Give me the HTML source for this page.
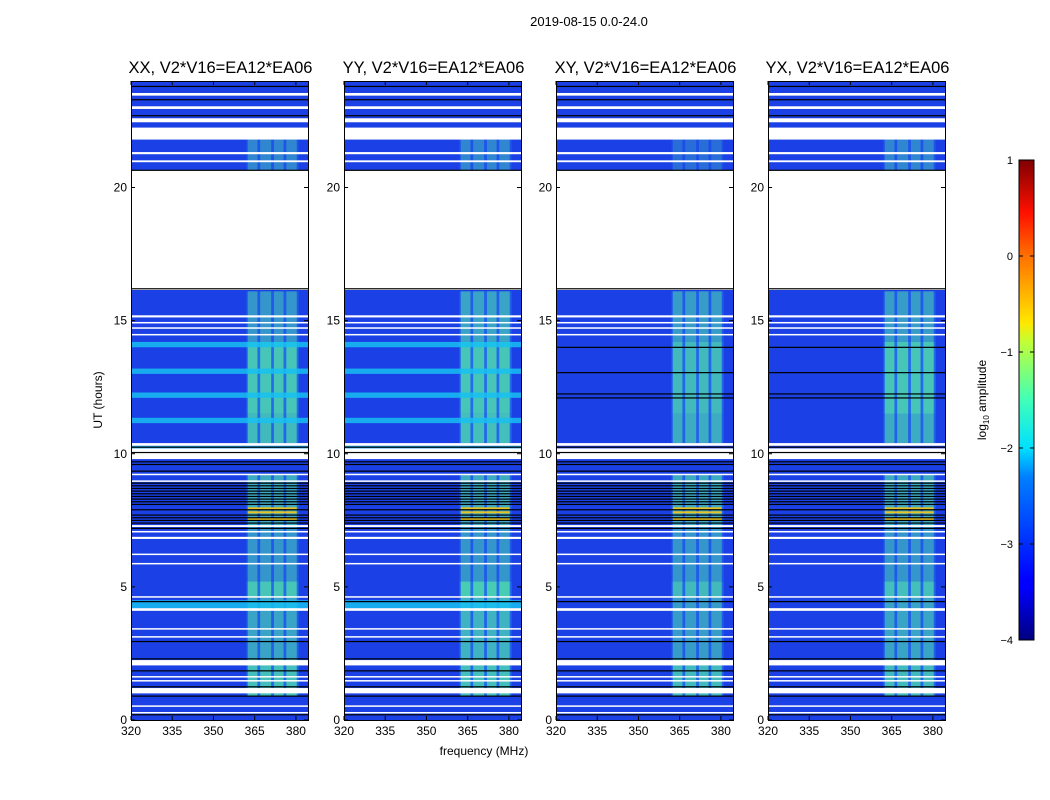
<!DOCTYPE html>
<html><head><meta charset="utf-8">
<style>
body{margin:0;background:#fff;}
svg{display:block;font-family:"Liberation Sans",sans-serif;}
</style></head>
<body>
<svg id="fig" width="1050" height="800" viewBox="0 0 1050 800" xmlns="http://www.w3.org/2000/svg">
<defs>
<linearGradient id="jet" x1="0" y1="1" x2="0" y2="0">
<stop offset="0" stop-color="#00007f"/><stop offset="0.11" stop-color="#0000ff"/>
<stop offset="0.125" stop-color="#0000ff"/><stop offset="0.34" stop-color="#0080ff"/>
<stop offset="0.4" stop-color="#00e0ff"/><stop offset="0.5" stop-color="#40ffb8"/>
<stop offset="0.62" stop-color="#c0ff38"/><stop offset="0.66" stop-color="#ffe800"/>
<stop offset="0.8" stop-color="#ff7000"/><stop offset="0.89" stop-color="#ff1000"/>
<stop offset="1" stop-color="#7f0000"/>
</linearGradient>
</defs>
<text x="589" y="26" font-size="13" text-anchor="middle">2019-08-15 0.0-24.0</text>
<g id="panels"></g>
<text x="484" y="755" font-size="12" text-anchor="middle">frequency (MHz)</text>
<text transform="translate(102,400) rotate(-90)" font-size="12" text-anchor="middle">UT (hours)</text>
<g>
<rect x="1019" y="160" width="15" height="480" fill="url(#jet)" stroke="#000" stroke-width="1"/>
<g id="cbticks"></g>
<text transform="translate(986,400) rotate(-90)" font-size="12" text-anchor="middle">log<tspan font-size="8" dy="3">10</tspan><tspan dy="-3"> amplitude</tspan></text>
</g>
</svg>
<script>
const panelTitles = ["XX, V2*V16=EA12*EA06","YY, V2*V16=EA12*EA06","XY, V2*V16=EA12*EA06","YX, V2*V16=EA12*EA06"];
const panelX = [131,344,556,768];
const xTicks = [320,335,350,365,380];
const yTicks = [0,5,10,15,20];
const cbTicks = [1,0,-1,-2,-3,-4];
// flagged (white) time ranges, hours
const flagRows = [[23.45,23.55],[22.95,23.05],[22.45,22.6],[21.8,22.25],[21.25,21.33],[20.95,21.02],[16.15,20.65],[15.12,15.2],[14.9,14.95],[14.7,14.75],[14.45,14.5],[10.3,10.4],[9.8,10.2],[9.2,9.25],[8.95,9.0],[7.25,7.32],[7.05,7.1],[6.8,6.88],[6.2,6.25],[5.85,5.9],[4.6,4.65],[4.1,4.2],[3.4,3.45],[3.1,3.15],[2.05,2.25],[1.6,1.65],[1.45,1.5],[1.0,1.2],[0.5,0.55],[0.25,0.3]];
// black line rows, hours
const blackRows = [23.8,23.3,22.7,20.65,16.2,10.25,10.05,9.7,9.6,9.35,8.9,8.8,8.7,8.6,8.5,8.4,8.3,8.2,8.1,7.9,7.7,7.6,7.5,7.4,7.2,4.45,2.95,2.3,1.85,1.25,0.9,0.2];
const blackRowsCross = [14.0,12.25,12.1,13.05];
// bright channel bands, MHz
const chanBands = [[362.5,366],[367,371],[372,375.5],[376.5,380.3]];
// time segments with band brightness (0..1) per polarisation [XX,YY,XY,YX]
const activeSegs = [[0.9,2.3,[0.8,0.8,0.75,0.75]],[2.3,4.6,[0.6,0.7,0.55,0.6]],[4.6,5.2,[0.85,0.9,0.75,0.8]],[5.2,7.3,[0.5,0.5,0.5,0.5]],[7.3,9.2,[0.65,0.65,0.65,0.65]],[10.4,11.5,[0.75,0.8,0.65,0.65]],[11.5,14.2,[0.85,0.85,0.75,0.85]],[14.2,16.1,[0.5,0.6,0.55,0.55]],[20.65,21.8,[0.4,0.4,0.25,0.4]]];
// bright cyan rows in XX/YY (hours)
const cyanRows = [[14.0,14.2],[13.0,13.2],[12.1,12.3],[11.15,11.35],[10.2,10.3],[4.2,4.5]];
// yellow rows (RFI) hours
const yellowRows = [7.55,7.8,7.95];

const X0=320,X1=384.4,Y0=0,Y1=24,PT=81,PB=720,PW=177;
const NS="http://www.w3.org/2000/svg";
function sx(f,px){return px+(f-X0)/(X1-X0)*PW;}
function sy(h){return PB-(h-Y0)/(Y1-Y0)*(PB-PT);}
function mk(tag,attrs,parent){const e=document.createElementNS(NS,tag);for(const k in attrs)e.setAttribute(k,attrs[k]);parent.appendChild(e);return e;}
const root=document.getElementById('panels');
panelTitles.forEach((t,p)=>{
  const px=panelX[p];
  const g=mk('g',{},root);
  
  
  const bg=mk('rect',{x:px,y:PT,width:PW,height:PB-PT,fill:'#1a40e6'},g);
  
  
  activeSegs.forEach(s=>{
    const r2=mk('rect',{x:sx(362,px),y:sy(s[1]),width:sx(381,px)-sx(362,px),height:sy(s[0])-sy(s[1]),fill:'#30a8f0','fill-opacity':s[2][p]*0.5},g);
    
    
    chanBands.forEach(b=>{
      const r=mk('rect',{x:sx(b[0],px),y:sy(s[1]),width:sx(b[1],px)-sx(b[0],px),height:sy(s[0])-sy(s[1]),fill:'#58f0a0','fill-opacity':s[2][p]*0.8},g);
      
      
    });
  });
  if(p<2){cyanRows.forEach(c=>{
    const r=mk('rect',{x:px,y:sy(c[1]),width:PW,height:sy(c[0])-sy(c[1]),fill:'#18c0f0','fill-opacity':0.85},g);
    
    
  });}
  yellowRows.forEach(h=>{
    const r=mk('rect',{x:sx(362.5,px),y:sy(h)-1,width:sx(380.3,px)-sx(362.5,px),height:2,fill:'#e8c020'},g);
    
    
  });
  flagRows.forEach(f=>{
    const r=mk('rect',{x:px,y:sy(f[1]),width:PW,height:Math.max(1.5,sy(f[0])-sy(f[1])),fill:'#fff'},g);
    
    
  });
  blackRows.concat(p>=2?blackRowsCross:[]).forEach(h=>{
    const r=mk('rect',{x:px,y:sy(h)-0.5,width:PW,height:1.2,fill:'#000'},g);
    
    
  });
  const fr=mk('rect',{x:px+0.5,y:PT+0.5,width:PW,height:PB-PT,fill:'none',stroke:'#000','stroke-width':1},g);
  
  
  const tt=mk('text',{x:px+PW/2+1,y:73,'font-size':16.5,'text-anchor':'middle'},g);tt.textContent=t;
  
  
  xTicks.forEach(v=>{
    const x=sx(v,px);
    mk('line',{x1:x,x2:x,y1:PB,y2:PB-4,stroke:'#000'},g);
    mk('line',{x1:x,x2:x,y1:PT,y2:PT+4,stroke:'#000'},g);
    const l=mk('text',{x:x,y:PB+15,'font-size':12,'text-anchor':'middle'},g);l.textContent=v;
    
    
  });
  yTicks.forEach(v=>{
    const y=sy(v);
    mk('line',{x1:px,x2:px+4,y1:y,y2:y,stroke:'#000'},g);
    mk('line',{x1:px+PW,x2:px+PW-4,y1:y,y2:y,stroke:'#000'},g);
    const l=mk('text',{x:px-4,y:y+4,'font-size':12,'text-anchor':'end'},g);l.textContent=v;
    
    
  });
});
const cb=document.getElementById('cbticks');
cbTicks.forEach(v=>{
  const y=160+(1-v)/5*480;
  mk('line',{x1:1019,x2:1023,y1:y,y2:y,stroke:'#000'},cb);
  mk('line',{x1:1034,x2:1030,y1:y,y2:y,stroke:'#000'},cb);
  const l=mk('text',{x:1013,y:y+4,'font-size':11,'text-anchor':'end'},cb);
  l.textContent=v<0?'\u2212'+(-v):String(v);
  
  
});
</script>
</body></html>
